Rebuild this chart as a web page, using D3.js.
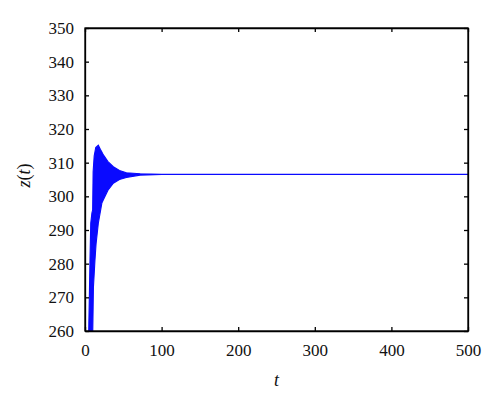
<!DOCTYPE html>
<html lang="en">
<head>
<meta charset="UTF-8">
<title>z(t)</title>
<script src="https://cdn.jsdelivr.net/npm/d3@7"></script>
<style>
  body { margin: 0; background: #fff; }
  svg text { font-family: "Liberation Serif", "Times New Roman", Tinos, "DejaVu Serif", "Noto Serif", serif; fill: #111; }
</style>
</head>
<body>
<div id="chart"></div>
<script>
// envelope of the oscillating z(t)
const tUpper = [4.5, 5.0, 5.5, 6.5, 7.5, 9.0, 10.0, 10.6, 12.0, 14.0, 17.4, 20.0, 24.0, 30.0, 37.0, 45.0, 54.0, 72.0, 100.0, 500.0];
const zUpper = [255, 262, 268, 281, 292, 295, 296, 307.3, 312, 314.5, 315.2, 314, 312.3, 310.3, 308.8, 307.7, 307.0, 306.7, 306.55, 306.55];
const tLower = [4.5, 10.0, 11.0, 13.0, 14.5, 17.4, 22.0, 24.0, 30.0, 37.0, 45.0, 54.0, 72.0, 100.0, 500.0];
const zLower = [255, 258, 273, 281, 286, 292, 298, 299, 301.8, 303.9, 305.0, 305.6, 306.3, 306.5, 306.5];

const xTicks = [0, 100, 200, 300, 400, 500];
const yTicks = [260, 270, 280, 290, 300, 310, 320, 330, 340, 350];

const margin = { top: 28, right: 32, bottom: 77, left: 85 };
const width = 500 - margin.left - margin.right;
const height = 408 - margin.top - margin.bottom;

const svg = d3.select("#chart")
  .append("svg")
  .attr("width", 500)
  .attr("height", 408)
  .append("g")
  .attr("transform", `translate(${margin.left},${margin.top})`);

const x = d3.scaleLinear().domain([0, 500]).range([0, width]);
const y = d3.scaleLinear().domain([260, 350]).range([height, 0]);

svg.append("clipPath").attr("id", "clip")
  .append("rect").attr("width", width).attr("height", height);

// merge both envelopes on a common t grid (union of the read points)
const ts = Array.from(new Set(tUpper.concat(tLower))).sort((a, b) => a - b);
const upAt = d3.scaleLinear().domain(tUpper).range(zUpper);
const loAt = d3.scaleLinear().domain(tLower).range(zLower);
const band = ts.map(t => ({ t: t, hi: upAt(t), lo: loAt(t) }));

const area = d3.area()
  .x(d => x(d.t))
  .y0(d => y(d.lo))
  .y1(d => y(d.hi));

svg.append("path")
  .datum(band)
  .attr("clip-path", "url(#clip)")
  .attr("d", area)
  .attr("fill", "#0a0aff")
  .attr("stroke", "#0a0aff")
  .attr("stroke-width", 1.1);

// axes with inward ticks, mirrored on top/right
const tickLen = 4;
svg.append("g")
  .attr("transform", `translate(0,${height})`)
  .call(d3.axisBottom(x).tickValues(xTicks).tickSizeInner(-tickLen).tickSizeOuter(0).tickPadding(13))
  .call(g => g.selectAll("text").style("font-size", "17px"));

svg.append("g")
  .call(d3.axisTop(x).tickValues(xTicks).tickSizeInner(-tickLen).tickSizeOuter(0).tickFormat(""));

svg.append("g")
  .call(d3.axisLeft(y).tickValues(yTicks).tickSizeInner(-tickLen).tickSizeOuter(0).tickPadding(11))
  .call(g => g.selectAll("text").style("font-size", "17px"));

svg.append("g")
  .attr("transform", `translate(${width},0)`)
  .call(d3.axisRight(y).tickValues(yTicks).tickSizeInner(-tickLen).tickSizeOuter(0).tickFormat(""));

svg.selectAll(".domain, .tick line").attr("stroke", "#000").attr("stroke-width", 1.3);
svg.selectAll("g").attr("font-family", null);

svg.append("rect")
  .attr("width", width).attr("height", height)
  .attr("fill", "none").attr("stroke", "#000").attr("stroke-width", 1.3);

// axis titles
svg.append("text")
  .attr("x", width / 2)
  .attr("y", height + 55)
  .attr("text-anchor", "middle")
  .style("font-size", "18px")
  .style("font-style", "italic")
  .text("t");

const yl = svg.append("text")
  .attr("transform", `translate(${-55},${height / 2 - 4}) rotate(-90)`)
  .attr("text-anchor", "middle")
  .style("font-size", "18px");
yl.append("tspan").style("font-style", "italic").text("z");
yl.append("tspan").text("(");
yl.append("tspan").style("font-style", "italic").text("t");
yl.append("tspan").text(")");
</script>
</body>
</html>
